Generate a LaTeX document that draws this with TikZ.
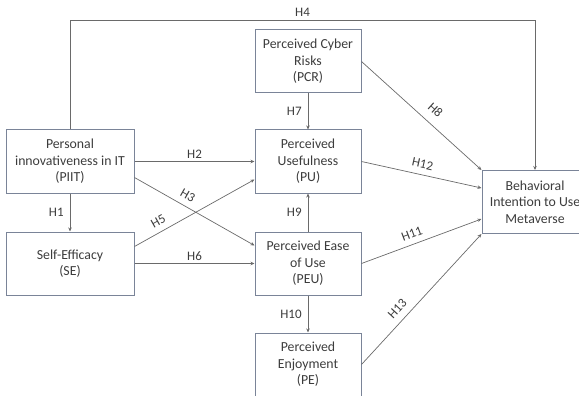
\documentclass[tikz,border=0pt]{standalone}
\usepackage{fontspec}
\setmainfont{Carlito}
\usepackage{tikz}
\usetikzlibrary{positioning,arrows.meta}

\definecolor{boxline}{HTML}{7A8498}
\definecolor{arrowline}{HTML}{6A6A6A}
\definecolor{textgray}{HTML}{3C3C3C}

\begin{document}
\begin{tikzpicture}[x=1pt,y=1pt,
font=\fontsize{13.8}{16.5}\selectfont,
text=textgray,
widebox/.style={rectangle, draw=boxline, line width=1pt, minimum width=128pt, minimum height=63pt, inner sep=2pt, align=center},
narrowbox/.style={rectangle, draw=boxline, line width=1pt, minimum width=106pt, minimum height=63pt, inner sep=2pt, align=center},
hpath/.style={draw=arrowline, line width=0.7pt, -{Stealth[length=4pt,width=3.5pt]}},
hyp/.style={font=\fontsize{13}{14}\selectfont, inner sep=2pt},
slopedhyp/.style={hyp, sloped, above=4pt},
]
\useasboundingbox (0,0) rectangle (579,-396);

%Nodes
\node[widebox]      (piit)  at (70,-161.5)      {Personal\\innovativeness in IT\\(PIIT)};
\node[widebox]      (se)    [below=38pt of piit] {Self-Efficacy\\(SE)};
\node[narrowbox]    (pu)    [right=120pt of piit] {Perceived\\Usefulness\\(PU)};
\node[narrowbox]    (pcr)   [above=36pt of pu]  {Perceived Cyber\\Risks\\(PCR)};
\node[narrowbox]    (peu)   [below=38pt of pu]  {Perceived Ease\\of Use\\(PEU)};
\node[narrowbox]    (pe)    [below=37pt of peu] {Perceived\\Enjoyment\\(PE)};
\node[narrowbox]    (bi)    at (535,-202)        {Behavioral\\Intention to Use\\Metaverse};
\coordinate (toprail) at (0,-20);

%Lines
\draw[hpath] (piit.north) -- (piit.north |- toprail) -- node[hyp, above=1pt] {H4} (bi.north |- toprail) -- (bi.north);
\draw[hpath] (piit.south) -- node[hyp, left=4pt] {H1} (se.north);
\draw[hpath] (piit.east) -- node[hyp, above=1pt] {H2} (pu.west);
\draw[hpath] ([yshift=-16pt]piit.east) -- node[slopedhyp, pos=0.4] {H3} ([yshift=18pt]peu.west);
\draw[hpath] ([yshift=17pt]se.east) -- node[slopedhyp, pos=0.24] {H5} ([yshift=-18pt]pu.west);
\draw[hpath] (se.east) -- node[hyp, above=1pt] {H6} (peu.west);
\draw[hpath] (pcr.south) -- node[hyp, left=4pt] {H7} (pu.north);
\draw[hpath] (pcr.east) -- node[slopedhyp, pos=0.54, above=7pt] {H8} (bi.north west);
\draw[hpath] (peu.north) -- node[hyp, left=4pt] {H9} (pu.south);
\draw[hpath] (peu.south) -- node[hyp, left=4pt] {H10} (pe.north);
\draw[hpath] (peu.east) -- node[slopedhyp, pos=0.45] {H11} ([yshift=-17pt]bi.west);
\draw[hpath] (pu.east) -- node[slopedhyp, pos=0.49] {H12} ([yshift=14pt]bi.west);
\draw[hpath] (pe.east) -- node[slopedhyp, pos=0.37, above=5pt] {H13} (bi.south west);

\end{tikzpicture}
\end{document}
